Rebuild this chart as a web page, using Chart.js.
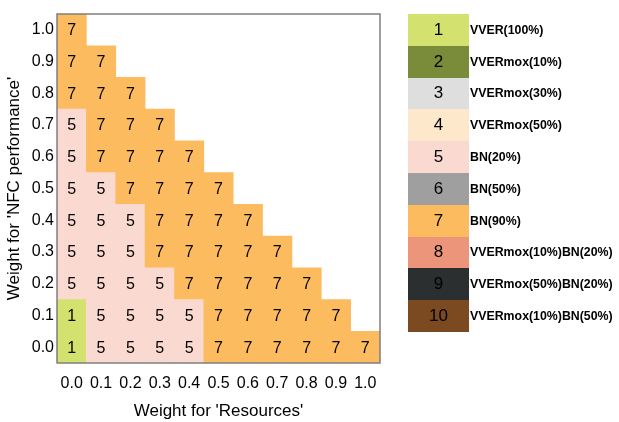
<!DOCTYPE html>
<html>
<head>
<meta charset="utf-8">
<script src="https://cdn.jsdelivr.net/npm/chart.js@4.4.1/dist/chart.umd.min.js"></script>
<style>
  html, body { margin: 0; padding: 0; background: #fff; }
  #wrap { position: relative; width: 619px; height: 422px; }
  #legend { position: absolute; left: 408px; top: 14px; font-family: "Liberation Sans", Arial, sans-serif; }
  .row { display: flex; align-items: center; height: 31.8px; }
  .box { width: 61px; height: 100%; display: flex; align-items: center; justify-content: center; font-size: 17px; color: #000; }
  .lab { font-size: 12.35px; font-weight: bold; margin-left: 1px; color: #000; }
</style>
</head>
<body>
<div id="wrap">
  <canvas id="heat" width="619" height="422"></canvas>
  <div id="legend"></div>
</div>
<script>
// weights on both axes
const xLabels = ['0.0', '0.1', '0.2', '0.3', '0.4', '0.5', '0.6', '0.7', '0.8', '0.9', '1.0']
const yWeights = [0.0, 0.1, 0.2, 0.3, 0.4, 0.5, 0.6, 0.7, 0.8, 0.9, 1.0]

// best option per cell, one row per NFC weight (0.0 first), columns = resources weight
const best = [
    [1, 5, 5, 5, 5, 7, 7, 7, 7, 7, 7],
    [1, 5, 5, 5, 5, 7, 7, 7, 7, 7],
    [5, 5, 5, 5, 7, 7, 7, 7, 7],
    [5, 5, 5, 7, 7, 7, 7, 7],
    [5, 5, 5, 7, 7, 7, 7],
    [5, 5, 7, 7, 7, 7],
    [5, 7, 7, 7, 7],
    [5, 7, 7, 7],
    [7, 7, 7],
    [7, 7],
    [7]
]

// options legend
const optionIds = [1, 2, 3, 4, 5, 6, 7, 8, 9, 10]
const optionNames = ['VVER(100%)', 'VVERmox(10%)', 'VVERmox(30%)', 'VVERmox(50%)', 'BN(20%)',
    'BN(50%)', 'BN(90%)', 'VVERmox(10%)BN(20%)', 'VVERmox(50%)BN(20%)', 'VVERmox(10%)BN(50%)']
const optionColors = ['#d3e16f', '#7a8b3a', '#dedede', '#fde8cb', '#fadad0',
    '#9f9f9f', '#fdbb5f', '#ec957a', '#2c2f2f', '#7b4a21']

const FONT = '"Liberation Sans", Arial, sans-serif'

//One floating bar per cell
const datasets = yWeights.map((w, r) => ({
    label: 'w' + w,
    data: xLabels.map((_, c) => best[r][c] !== undefined ? [w - 0.05, w + 0.05] : null),
    backgroundColor: xLabels.map((_, c) => best[r][c] !== undefined ? optionColors[best[r][c] - 1] : 'rgba(0,0,0,0)'),
    vals: xLabels.map((_, c) => best[r][c]),
    borderWidth: 0,
    barPercentage: 1,
    categoryPercentage: 1,
    grouped: false
}))

//numbers in cells + frame
const cellText = {
    id: 'cellText',
    afterDatasetsDraw(chart) {
        const ctx = chart.ctx
        ctx.save()
        ctx.font = '16px ' + FONT
        ctx.fillStyle = '#000'
        ctx.textAlign = 'center'
        ctx.textBaseline = 'middle'
        chart.data.datasets.forEach((ds, i) => {
            chart.getDatasetMeta(i).data.forEach((el, j) => {
                if (ds.vals[j] === undefined) return
                const p = el.getCenterPoint()
                ctx.fillText(String(ds.vals[j]), p.x, p.y + 1)
            })
        })
        const a = chart.chartArea
        ctx.strokeStyle = '#7f7f7f'
        ctx.lineWidth = 1.5
        ctx.strokeRect(a.left, a.top, a.right - a.left, a.bottom - a.top)
        ctx.restore()
    }
}

new Chart(document.getElementById('heat'), {
    type: 'bar',
    data: { labels: xLabels, datasets: datasets },
    options: {
        responsive: false,
        animation: false,
        layout: { padding: { top: 14, right: 239, left: 0, bottom: 0 } },
        plugins: { legend: { display: false }, tooltip: { enabled: false } },
        scales: {
            x: {
                grid: { display: false, drawTicks: false },
                border: { display: false },
                ticks: { color: '#000', font: { family: FONT, size: 16 }, padding: 11, maxRotation: 0, autoSkip: false },
                title: { display: true, text: "Weight for 'Resources'", color: '#000', font: { family: FONT, size: 17 }, padding: 0 },
                afterFit: (s) => { s.height = 59 }
            },
            y: {
                min: -0.05,
                max: 1.05,
                grid: { display: false, drawTicks: false },
                border: { display: false },
                afterBuildTicks: (s) => { s.ticks = yWeights.map(v => ({ value: v })) },
                ticks: { color: '#000', font: { family: FONT, size: 16 }, padding: 3, callback: (v) => Number(v).toFixed(1) },
                title: { display: true, text: "Weight for 'NFC performance'", color: '#000', font: { family: FONT, size: 17 }, padding: 4 },
                afterFit: (s) => { s.width = 57 }
            }
        }
    },
    plugins: [cellText]
})

//legend boxes
const legend = document.getElementById('legend')
optionIds.forEach((id, i) => {
    const row = document.createElement('div')
    row.className = 'row'
    row.innerHTML = '<div class="box" style="background:' + optionColors[i] + '">' + id + '</div><div class="lab">' + optionNames[i] + '</div>'
    legend.appendChild(row)
})
</script>
</body>
</html>
